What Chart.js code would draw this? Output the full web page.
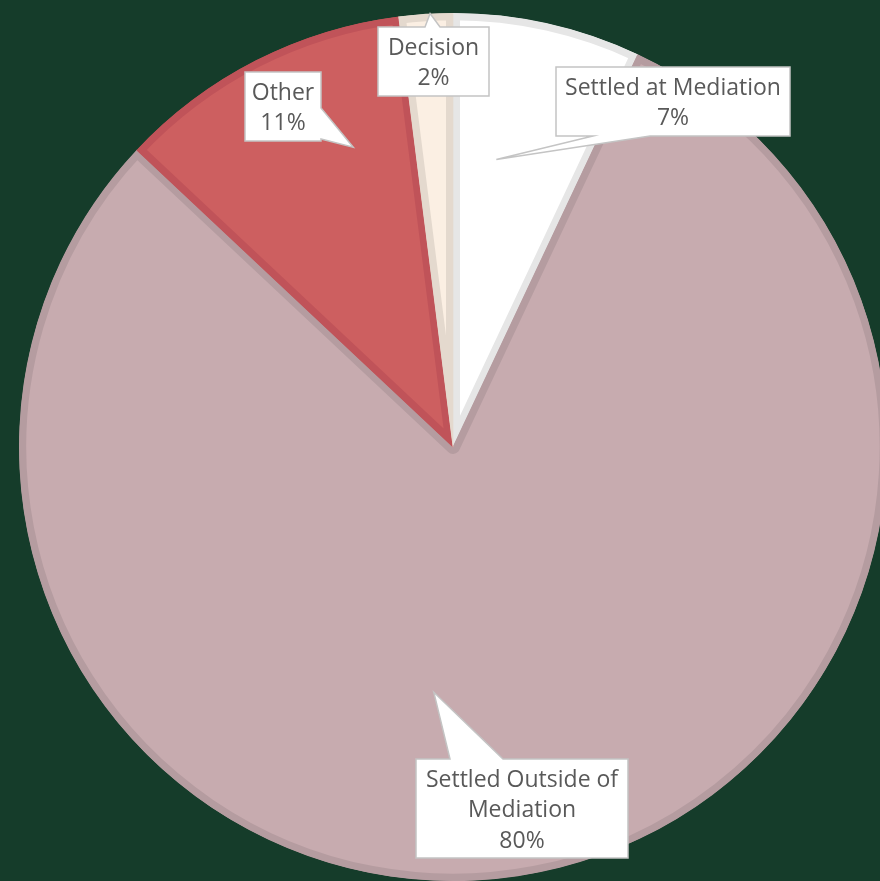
<!DOCTYPE html>
<html>
<head>
<meta charset="utf-8">
<script src="https://cdn.jsdelivr.net/npm/chart.js@4/dist/chart.umd.min.js"></script>
<style>
  html, body { margin: 0; padding: 0; background: #153c2a; overflow: hidden; }
  #wrap { position: absolute; left: 0; top: 0; }
</style>
</head>
<body>
<div id="wrap"><canvas id="pie" width="906" height="894"></canvas></div>
<script>
const categories = ["Settled at Mediation", "Settled Outside of Mediation", "Other", "Decision"];
const shares = [7, 80, 11, 2];

const fillColors = ["#ffffff", "#c7abaf", "#cd5f60", "#fbefe3"];
const edgeColors = ["#e6e6e6", "#b59ca0", "#c05359", "#e4d9ce"];

// callout boxes: box [x, y, w, h], side the pointer leaves from, base span on that side,
// tip = [fraction across the slice angle, fraction of radius]
const callouts = [
  { box: [556, 67, 234, 69], side: "bottom", base: [593, 650], tip: [0.34, 0.67] },
  { box: [416, 759, 212, 99], side: "top", base: [450, 503], tip: [0.553, 0.567] },
  { box: [245, 72, 76, 69], side: "right", base: [108, 139], tip: [0.717, 0.728] },
  { box: [378, 27, 111, 69], side: "top", base: [425, 440], tip: [0.58, 1.0] },
];

const FONT = "23px 'Open Sans'";
const LINE_H = 30.5;

const wrapText = (ctx, text, maxW) => {
  const words = text.split(" ");
  const lines = [];
  let cur = "";
  words.forEach((w) => {
    const test = cur ? cur + " " + w : w;
    if (ctx.measureText(test).width > maxW && cur) {
      lines.push(cur);
      cur = w;
    } else {
      cur = test;
    }
  });
  if (cur) lines.push(cur);
  return lines;
};

const calloutPlugin = {
  id: "callouts",
  afterDatasetsDraw(chart) {
    const ctx = chart.ctx;
    const meta = chart.getDatasetMeta(0);
    ctx.save();
    ctx.font = FONT;
    meta.data.forEach((arc, i) => {
      const c = callouts[i];
      if (!c) return;
      const { x, y, startAngle, endAngle, outerRadius } = arc.getProps(
        ["x", "y", "startAngle", "endAngle", "outerRadius"], true);
      const a = startAngle + c.tip[0] * (endAngle - startAngle);
      const tx = x + Math.cos(a) * outerRadius * c.tip[1];
      const ty = y + Math.sin(a) * outerRadius * c.tip[1];
      const [bx, by, bw, bh] = c.box;
      const r = bx + bw, b = by + bh;

      ctx.beginPath();
      if (c.side === "top") {
        ctx.moveTo(bx, by);
        ctx.lineTo(c.base[0], by);
        ctx.lineTo(tx, ty);
        ctx.lineTo(c.base[1], by);
        ctx.lineTo(r, by);
        ctx.lineTo(r, b);
        ctx.lineTo(bx, b);
      } else if (c.side === "bottom") {
        ctx.moveTo(bx, by);
        ctx.lineTo(r, by);
        ctx.lineTo(r, b);
        ctx.lineTo(c.base[1], b);
        ctx.lineTo(tx, ty);
        ctx.lineTo(c.base[0], b);
        ctx.lineTo(bx, b);
      } else {
        ctx.moveTo(bx, by);
        ctx.lineTo(r, by);
        ctx.lineTo(r, c.base[0]);
        ctx.lineTo(tx, ty);
        ctx.lineTo(r, c.base[1]);
        ctx.lineTo(r, b);
        ctx.lineTo(bx, b);
      }
      ctx.closePath();
      ctx.fillStyle = "#ffffff";
      ctx.fill();
      ctx.lineWidth = 1.5;
      ctx.strokeStyle = "#c4c4c4";
      ctx.stroke();

      const lines = wrapText(ctx, categories[i], bw - 14);
      lines.push(shares[i] + "%");
      ctx.fillStyle = "#595959";
      ctx.textAlign = "center";
      ctx.textBaseline = "middle";
      const cx = bx + bw / 2;
      const y0 = by + bh / 2 + 2 - ((lines.length - 1) * LINE_H) / 2;
      lines.forEach((ln, k) => ctx.fillText(ln, cx, y0 + k * LINE_H));
    });
    ctx.restore();
  },
};

new Chart(document.getElementById("pie").getContext("2d"), {
  type: "pie",
  data: {
    labels: categories,
    datasets: [
      {
        data: shares,
        backgroundColor: fillColors,
        borderColor: edgeColors,
        borderWidth: 7,
        borderAlign: "inner",
      },
    ],
  },
  options: {
    responsive: false,
    maintainAspectRatio: false,
    animation: false,
    radius: 434,
    layout: { padding: 0 },
    plugins: {
      legend: { display: false },
      tooltip: { enabled: false },
    },
  },
  plugins: [calloutPlugin],
});
</script>
</body>
</html>
